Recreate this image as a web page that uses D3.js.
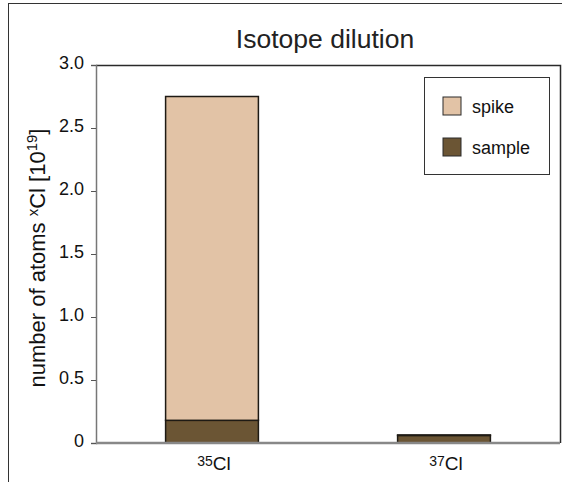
<!DOCTYPE html>
<html>
<head>
<meta charset="utf-8">
<script src="https://cdn.jsdelivr.net/npm/d3@7"></script>
<style>
  html, body { margin: 0; padding: 0; background: #fff; }
  svg { display: block; font-family: "Liberation Sans", Arial, sans-serif; }
</style>
</head>
<body>
<svg id="chart" width="562" height="482"></svg>
<script>
// Isotopes on the x axis (mass number + element)
const isotopes = [
  { mass: "35", element: "Cl" },
  { mass: "37", element: "Cl" }
];
// Number of atoms, in units of 10^19
const sampleValues = [0.18, 0.06];
const spikeValues = [2.57, 0.004];
const seriesNames = ["sample", "spike"];
const seriesColors = ["#6b5534", "#e2c3a6"];
const yTicks = [0, 0.5, 1.0, 1.5, 2.0, 2.5, 3.0];

const svg = d3.select("#chart");
const plot = { left: 96, right: 560, top: 65, bottom: 443 };

// outer frame
svg.append("rect")
  .attr("x", 8.5).attr("y", 3.5)
  .attr("width", 600).attr("height", 600)
  .attr("fill", "none").attr("stroke", "#333").attr("stroke-width", 1);

const x = d3.scaleBand()
  .domain(isotopes.map(d => d.mass + d.element))
  .range([plot.left, plot.right])
  .paddingInner(0.6)
  .paddingOuter(0.3);

const y = d3.scaleLinear().domain([0, 3]).range([plot.bottom, plot.top]);

// stacked series
const rows = isotopes.map((d, i) => ({
  key: d.mass + d.element,
  sample: sampleValues[i],
  spike: spikeValues[i]
}));
const stacked = d3.stack().keys(seriesNames)(rows);
const color = d3.scaleOrdinal().domain(seriesNames).range(seriesColors);

// plot box: top and right edges
svg.append("path")
  .attr("d", `M${plot.left},${plot.top + 0.5}H${plot.right + 0.5}V${plot.bottom}`)
  .attr("fill", "none").attr("stroke", "#2a2a2a").attr("stroke-width", 1.5);

// bars
svg.append("g").selectAll("g")
  .data(stacked)
  .join("g")
  .attr("fill", d => color(d.key))
  .selectAll("rect")
  .data(d => d)
  .join("rect")
  .attr("x", d => x(d.data.key))
  .attr("width", x.bandwidth())
  .attr("y", d => y(d[1]))
  .attr("height", d => Math.max(0, y(d[0]) - y(d[1])))
  .attr("stroke", "#1e1a14")
  .attr("stroke-width", 1.5);

// y axis
const yAxis = d3.axisLeft(y)
  .tickValues(yTicks)
  .tickFormat(d => d === 0 ? "0" : d3.format(".1f")(d))
  .tickSize(5)
  .tickPadding(7);
const gy = svg.append("g")
  .attr("transform", `translate(${plot.left},0)`)
  .call(yAxis)
  .attr("font-size", 18)
  .attr("font-family", "Liberation Sans, Arial, sans-serif");
gy.select(".domain").attr("stroke", "#777").attr("stroke-width", 1.5);
gy.selectAll(".tick line").attr("stroke", "#555");
gy.selectAll(".tick text")
  .attr("fill", "#111")
  .attr("dy", "0.22em");

// x axis baseline
svg.append("line")
  .attr("x1", plot.left).attr("x2", plot.right)
  .attr("y1", y(0)).attr("y2", y(0))
  .attr("stroke", "#888").attr("stroke-width", 2.5);

// x category labels with superscript mass numbers
const xl = svg.append("g").selectAll("text")
  .data(isotopes)
  .join("text")
  .attr("x", d => x(d.mass + d.element) + x.bandwidth() / 2 + 2)
  .attr("y", 469.5)
  .attr("text-anchor", "middle")
  .attr("font-size", 19)
  .attr("fill", "#111");
xl.append("tspan").attr("font-size", 14).attr("dy", -4).text(d => d.mass);
xl.append("tspan").attr("dy", 4).text(d => d.element);

// y axis title
const yt = svg.append("text")
  .attr("transform", `translate(45,${(plot.top + plot.bottom) / 2 + 4}) rotate(-90)`)
  .attr("text-anchor", "middle")
  .attr("font-size", 22)
  .attr("fill", "#111");
yt.append("tspan").text("number of atoms ");
yt.append("tspan").attr("font-size", 15).attr("dy", -7).text("x");
yt.append("tspan").attr("dy", 7).text("Cl [10");
yt.append("tspan").attr("font-size", 15).attr("dy", -8).text("19");
yt.append("tspan").attr("dy", 8).text("]");

// title
svg.append("text")
  .attr("x", 325).attr("y", 47.5)
  .attr("text-anchor", "middle")
  .attr("font-size", 26.5)
  .attr("fill", "#222")
  .text("Isotope dilution");

// legend
const legend = svg.append("g");
legend.append("rect")
  .attr("x", 424.5).attr("y", 77.5)
  .attr("width", 125).attr("height", 97)
  .attr("fill", "#fff").attr("stroke", "#333").attr("stroke-width", 1);
const legendOrder = ["spike", "sample"];
const li = legend.selectAll("g.item")
  .data(legendOrder)
  .join("g")
  .attr("class", "item")
  .attr("transform", (d, i) => `translate(443,${97 + i * 41})`);
li.append("rect")
  .attr("width", 18).attr("height", 18)
  .attr("fill", d => color(d))
  .attr("stroke", "#2a2a2a").attr("stroke-width", 1);
li.append("text")
  .attr("x", 29).attr("y", 15.5)
  .attr("font-size", 18)
  .attr("fill", "#111")
  .text(d => d);
</script>
</body>
</html>
